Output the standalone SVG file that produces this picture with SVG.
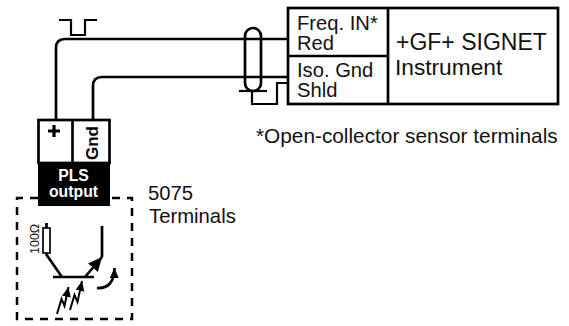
<svg xmlns="http://www.w3.org/2000/svg" width="569" height="326" viewBox="0 0 569 326">
<style>
.t{font-family:"Liberation Sans",Arial,sans-serif;fill:#111}
.b{font-family:"Liberation Sans",Arial,sans-serif;font-weight:bold}
.w{fill:none;stroke:#000;stroke-width:2.2}
.h{fill:none;stroke:#000;stroke-width:2.7}
.z{fill:none;stroke:#000;stroke-width:2}
</style>
<defs>
<marker id="a" markerUnits="userSpaceOnUse" markerWidth="16" markerHeight="14" refX="14" refY="6.5" orient="auto"><path d="M0,0L14,6.5L0,13Z" fill="#000"/></marker>
<marker id="c" markerUnits="userSpaceOnUse" markerWidth="12" markerHeight="10" refX="10" refY="4.5" orient="auto"><path d="M0,0L10,4.5L0,9Z" fill="#000"/></marker>
</defs>
<rect width="569" height="326" fill="#fff"/>
<g id="connectors">
<path class="h" d="M56,119V48Q56,39 65,39H288"/>
<path class="h" d="M93,119V86Q93,77 102,77H288"/>
<path class="w" d="M59,20H71V35H85V20H97"/>
<rect class="h" x="245" y="28" width="16" height="63" rx="8" ry="8"/>
<path class="w" d="M239,91H267"/>
<path class="w" d="M252,91V104H277V83H288"/>
</g>
<g id="instrument">
<rect class="h" x="288" y="8" width="270" height="96"/>
<path class="h" d="M388,8V104M288,56H388"/>
<text class="t" x="297" y="30" font-size="20.2">Freq. IN*</text>
<text class="t" x="297" y="50" font-size="20.2">Red</text>
<text class="t" x="297" y="77" font-size="20.2">Iso. Gnd</text>
<text class="t" x="297" y="97" font-size="20.2">Shld</text>
<text class="t" x="396" y="50" font-size="23">+GF+ SIGNET</text>
<text class="t" x="395" y="75" font-size="22.7">Instrument</text>
</g>
<g id="note"><text class="t" x="256" y="143" font-size="20.8">*Open-collector sensor terminals</text></g>
<g id="terminal">
<rect class="h" x="38.5" y="120" width="71" height="43"/>
<path class="h" d="M72.5,120V163"/>
<path d="M48,131H60M54,125V137" fill="none" stroke="#000" stroke-width="3.2"/>
<text class="b" transform="translate(98,160) rotate(-90)" font-size="17">Gnd</text>
</g>
<g id="pls">
<rect x="38" y="162" width="72" height="44" fill="#000"/>
<text class="b" x="73.5" y="181" fill="#fff" font-size="15.8" text-anchor="middle">PLS</text>
<text class="b" x="73.5" y="197" fill="#fff" font-size="15.8" text-anchor="middle">output</text>
</g>
<g id="terminals-5075">
<path fill="none" stroke="#000" stroke-width="2.5" stroke-dasharray="8 7" d="M38,198H17V319H132V198H110"/>
<text class="t" x="148" y="200" font-size="20.3">5075</text>
<text class="t" x="149" y="223" font-size="20.3">Terminals</text>
<text class="t" transform="translate(39,254) rotate(-90)" font-size="12.5">100Ω</text>
<rect x="43" y="228" width="7" height="25" fill="#fff" stroke="#000" stroke-width="1.7"/>
<path class="h" d="M46.5,223V228M46,254L62,277M53,277H94M102,226V257"/>
<path class="h" d="M85,277L102,257" marker-end="url(#a)"/>
<path class="h" d="M97,288Q114,289 114.5,268" marker-end="url(#c)"/>
<path class="z" d="M57,314L61.5,299L64.5,306L68.5,287" marker-end="url(#c)"/>
<path class="z" d="M70,310L74.5,295L77.5,302L82,281" marker-end="url(#c)"/>
</g>
</svg>
